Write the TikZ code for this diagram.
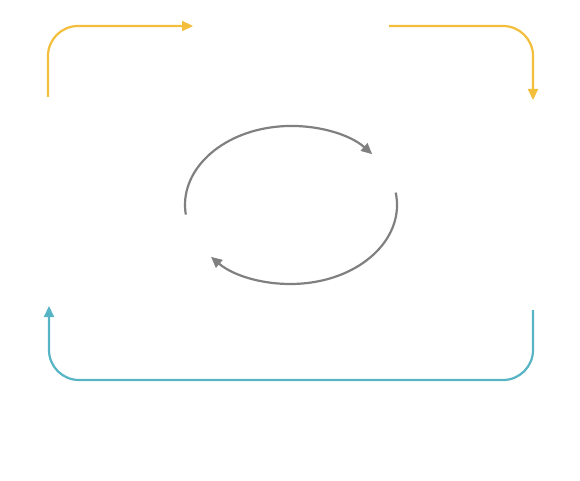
\documentclass[tikz,border=0pt]{standalone}
\usetikzlibrary{arrows.meta}
\definecolor{cyel}{HTML}{F2BE3C}
\definecolor{cteal}{HTML}{56B4C4}
\definecolor{cgray}{HTML}{808080}
\tikzset{
  conn/.style={line width=2.2pt, rounded corners=30pt, -{Triangle[length=11pt,width=10pt]}},
  arcconn/.style={line width=2.2pt, color=cgray, -{Triangle[length=11pt,width=10pt]}}
}
\begin{document}
\begin{tikzpicture}[x=1pt,y=1pt]
\useasboundingbox (0,0) rectangle (580,480);
% endpoints (y measured upward: 480 - pixel row)
\coordinate (y1s) at (48,383);
\coordinate (y1e) at (193,454);
\coordinate (y2s) at (389,454);
\coordinate (y2e) at (533,380);
\coordinate (ts) at (533,170);
\coordinate (tc) at (49,100);
\coordinate (te) at (49,174);
\coordinate (g1s) at (185.8,265.4);
\coordinate (g2s) at (395.7,287.4);
\draw[conn, cyel] (y1s) |- (y1e);
\draw[conn, cyel] (y2s) -| (y2e);
\draw[conn, cteal] (ts) |- (tc) -- (te);
\draw[arcconn] (g1s) arc[start angle=187, end angle=40, x radius=106, y radius=79];
\draw[arcconn] (g2s) arc[start angle=9, end angle=-139, x radius=106, y radius=79];
\end{tikzpicture}
\end{document}
